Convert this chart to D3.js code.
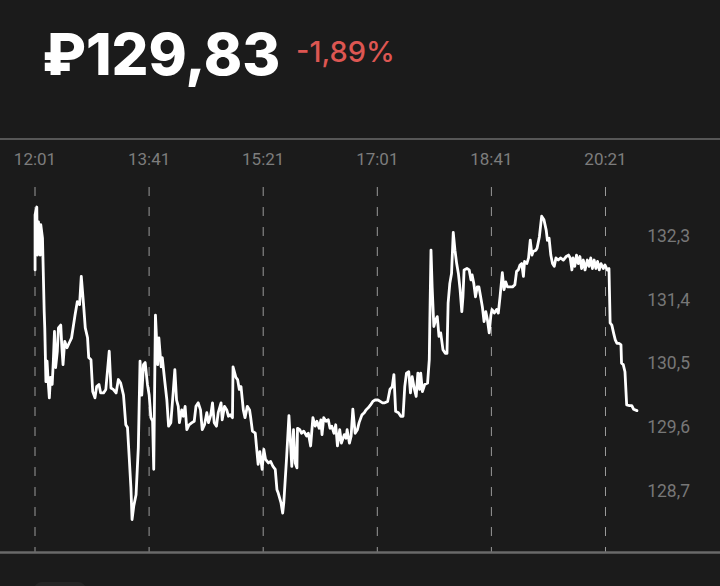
<!DOCTYPE html>
<html><head><meta charset="utf-8">
<script src="https://cdn.jsdelivr.net/npm/d3@7"></script>
<style>html,body{margin:0;padding:0;background:#1b1b1b;overflow:hidden}</style>
</head><body>
<svg id="c" width="720" height="586"></svg>
<script>
const priceLabel = "₽129,83";
const changeLabel = "-1,89%";
const startTime = "12:01";
const tickLabels = ["12:01","13:41","15:21","17:01","18:41","20:21"];
const yTicks = [132.3,131.4,130.5,129.6,128.7];
// minutes after 12:01
const minutes = [
0.5,0.5,2,2.5,3.5,5,5.5,7,8.5,9,
10,11,12,13,14,15.5,16.5,17.5,18.5,20,
21,23,24,25,26.5,28.5,30.5,32.5,35.5,37.5,
39.5,41,43,44.5,46.5,47.5,49.5,51,53,54.5,
56.5,58,60.5,62.5,65.5,67,69,71.5,73.5,75.5,
78,80,81.5,83,84.5,85.5,87,89,91,92.5,
94,95.5,97,99,100.5,102,103.5,104.5,106,108,
109,111,112,114,116,117.5,119.5,121.5,123,124.5,
126,127,129,130.5,132,133.5,135.5,138,140,141.5,
143.5,145.5,147,149,151,152.5,154.5,156,157.5,159.5,
161,163.5,164.5,166.5,168.5,170,171.5,173.5,174,176.5,
178,179.5,181,183,184.5,186.5,188.5,189.5,191,193.5,
194.5,196,197.5,199.5,201,202.5,205,207,209,211,
212.5,213.5,216,217.5,218.5,221,223,224.5,225.5,227,
228.5,230,230.5,232.5,234,236,238.5,240,242,244,
246,247.5,249.5,251,252,253.5,255.5,257.5,259,260.5,
262.5,264,265.5,267.5,269,271.5,273,274,276,277.5,
279,281,283,284.5,287,289,290.5,292.5,294.5,296.5,
298.5,301,303,305,307,309.5,311.5,313.5,315,316.5,
319,321,323,324.5,326,328,329.5,331,333,334.5,
336,337.5,338.5,340,342,344.5,346,346.5,347.5,348.5,
350,351.5,353,354.5,356,358,360,361.5,362.5,364,
365.5,367,368.5,370,371.5,373,374.5,375.5,376.5,379,
381,382.5,383.5,385,386.5,388,389.5,391,392.5,394,
395.5,397,398.5,400,401,403,405,406.5,408,410,
411.5,413,414.5,416.5,419,421,422.5,424,425.5,427,
428.5,429.5,431.5,433,434.5,436,437,439.5,440.5,442.5,
444.5,446.5,448.5,449.5,451,452.5,454,455.5,457,459,
461,463.5,466,468,469.5,471,472,473.5,475,476.5,
478,479.5,481,482.5,484.5,486,487.5,489,490.5,492,
493.5,495,496.5,498.5,500,502,503.5,504.5,506,507.5,
509,510.5,512.5,514,514.5,516,517.5,519,521.5,523.5,
525,528
];
const prices = [
131.82,132.60,132.71,132.03,132.50,132.03,132.46,132.27,131.23,131.00,
130.24,130.53,130.24,130.01,130.30,130.20,130.53,130.95,130.44,130.67,
131.00,131.04,130.72,130.48,130.81,130.72,130.79,130.86,131.18,131.37,
131.33,131.73,131.33,131.00,130.86,130.58,130.55,130.10,130.01,130.17,
130.20,130.08,130.08,130.13,130.67,130.15,130.13,130.08,130.27,130.22,
130.05,129.63,129.59,129.17,128.74,128.29,128.48,128.64,129.31,130.53,
130.05,130.48,130.51,130.20,130.05,129.73,129.68,129.00,131.18,130.48,
130.86,130.45,130.58,130.27,129.98,129.61,129.66,130.08,130.41,129.98,
129.89,129.66,129.84,129.75,129.89,129.56,129.63,129.66,129.68,129.89,
129.94,129.84,129.56,129.63,129.80,129.66,129.77,129.94,129.66,129.61,
129.80,129.94,129.70,129.89,129.84,129.75,129.77,129.73,130.45,130.30,
130.27,130.13,130.17,129.84,129.73,129.89,129.84,129.73,129.54,129.51,
129.33,129.07,129.25,129.00,129.28,129.14,129.09,129.11,129.04,129.00,
128.71,128.67,128.53,128.38,128.53,129.18,129.76,129.33,129.04,129.56,
129.09,129.02,129.58,129.56,129.51,129.54,129.47,129.51,129.33,129.73,
129.61,129.68,129.58,129.70,129.49,129.73,129.68,129.70,129.58,129.61,
129.51,129.63,129.33,129.56,129.37,129.49,129.44,129.56,129.37,129.47,
129.85,129.51,129.56,129.66,129.77,129.80,129.84,129.87,129.91,129.96,
129.98,129.98,129.96,129.94,129.94,129.96,130.13,130.17,130.34,129.82,
129.80,129.75,129.75,130.17,130.36,130.38,130.08,130.31,130.13,130.03,
130.36,130.13,130.36,130.10,130.20,130.22,130.55,131.11,132.10,131.58,
131.02,131.11,131.16,130.88,130.93,130.69,130.64,130.64,131.35,131.63,
131.77,132.35,132.10,131.91,131.77,131.54,131.23,131.44,131.82,131.84,
131.82,131.68,131.75,131.63,131.44,131.58,131.58,131.44,131.30,131.09,
131.23,131.11,130.93,131.18,131.26,131.21,131.26,131.21,131.44,131.78,
131.54,131.65,131.58,131.58,131.58,131.61,131.80,131.82,131.89,131.91,
131.73,131.94,131.91,131.99,132.24,132.03,132.08,132.10,132.13,132.29,
132.58,132.53,132.38,132.24,132.27,132.03,131.91,131.87,131.99,131.96,
131.99,131.96,132.01,132.03,131.99,131.82,131.99,131.87,132.03,131.91,
132.01,131.84,131.96,131.82,131.96,131.87,131.99,131.84,131.96,131.84,
131.94,131.82,131.91,131.84,131.89,131.82,131.84,131.07,131.04,130.93,
130.83,130.78,130.78,130.76,130.50,130.48,130.38,129.91,129.90,129.90,
129.85,129.83
];

const W = 720, H = 586;
const svg = d3.select("#c");
svg.append("rect").attr("width", W).attr("height", H).attr("fill", "#1b1b1b");

const parse = d3.timeParse("%H:%M");
const t0 = parse(startTime);
const data = minutes.map((m, i) => ({ t: new Date(t0.getTime() + m * 60000), v: prices[i] }));

const x = d3.scaleTime().domain([t0, parse(tickLabels[tickLabels.length - 1])]).range([34.5, 605]);
const y = d3.scaleLinear().domain([yTicks[yTicks.length - 1], yTicks[0]]).range([490.5, 236]);

// header
svg.append("text").attr("x", 42).attr("y", 75)
  .attr("font-family", "Inter, 'Noto Sans', sans-serif").attr("font-weight", 800)
  .attr("font-size", 58).attr("fill", "#ffffff").text(priceLabel);
svg.append("text").attr("x", 296).attr("y", 62)
  .attr("font-family", "Inter, 'Noto Sans', sans-serif").attr("font-weight", 500)
  .attr("font-size", 29).attr("fill", "#dd5652").text(changeLabel);

// top separator
svg.append("line").attr("x1", 0).attr("x2", W).attr("y1", 139).attr("y2", 139)
  .attr("stroke", "#575757").attr("stroke-width", 2);

// x axis with dashed grid
const xAxis = d3.axisTop(x)
  .tickValues(tickLabels.map(parse))
  .tickFormat(d3.timeFormat("%H:%M"))
  .tickSize(370).tickPadding(17);
const gx = svg.append("g").attr("transform", "translate(0,552)").call(xAxis);
gx.select(".domain").remove();
gx.selectAll(".tick line").attr("stroke", "#9a9a9a").attr("stroke-width", 1)
  .attr("stroke-dasharray", "9,11").attr("stroke-dashoffset", 4);
gx.selectAll(".tick text").attr("fill", "#7d7d7d")
  .attr("font-family", "Roboto, sans-serif").attr("font-size", 17);

// y axis labels
const yAxis = d3.axisLeft(y).tickValues(yTicks)
  .tickFormat(d => d3.format(".1f")(d).replace(".", ","))
  .tickSize(0).tickPadding(0);
const gy = svg.append("g").attr("transform", "translate(690,0)").call(yAxis);
gy.select(".domain").remove();
gy.selectAll(".tick text").attr("fill", "#777777")
  .attr("font-family", "Roboto, sans-serif").attr("font-size", 17.5);

// bottom line
svg.append("line").attr("x1", 0).attr("x2", W).attr("y1", 552.5).attr("y2", 552.5)
  .attr("stroke", "#6a6a6a").attr("stroke-width", 2.5);

// price line
const line = d3.line().x(d => x(d.t)).y(d => y(d.v));
svg.append("path").datum(data).attr("d", line)
  .attr("fill", "none").attr("stroke", "#ffffff").attr("stroke-width", 2.8)
  .attr("stroke-linejoin", "round").attr("stroke-linecap", "round");

// partial button at bottom edge
svg.append("rect").attr("x", 34).attr("y", 582).attr("width", 52).attr("height", 20)
  .attr("rx", 8).attr("fill", "#252525");
</script>
</body></html>
